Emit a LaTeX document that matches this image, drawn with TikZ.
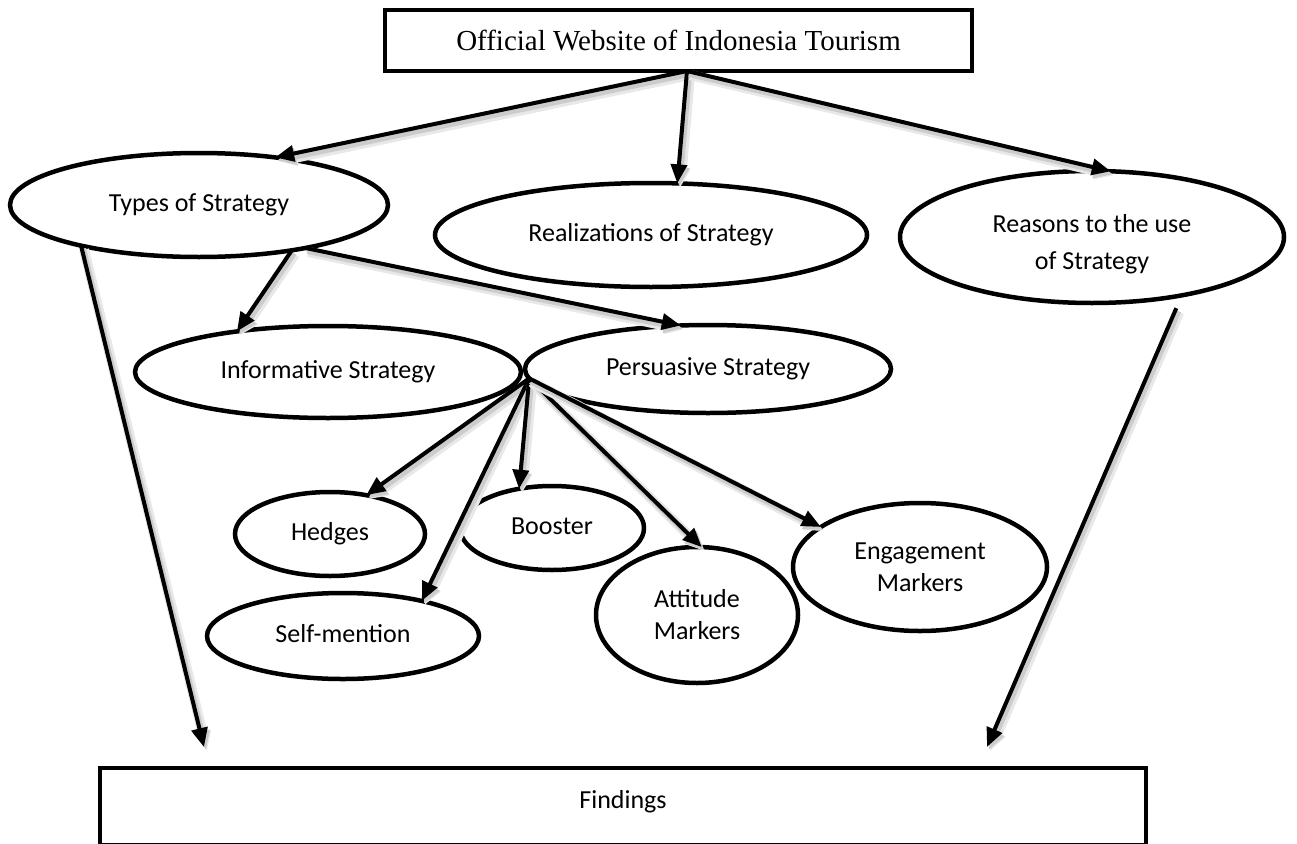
\documentclass[tikz,border=0pt]{standalone}
\usepackage{fontspec}
\setmainfont{Carlito}
\newfontfamily\timesfont{Liberation Serif}
\usetikzlibrary{arrows.meta,shapes.geometric}
\begin{document}
\begin{tikzpicture}[x=1pt,y=-1pt,
  oval/.style={draw, ellipse, line width=4.5pt, inner sep=0pt, outer sep=0pt,
    font=\fontsize{26}{32}\selectfont, align=center},
  oneline/.style={oval, text height=18pt, text depth=6pt},
  boxnode/.style={draw, rectangle, line width=4.5pt, inner sep=0pt, outer sep=0pt},
  conn/.style={line width=4pt, -{Triangle[length=19pt,width=16pt]},
    preaction={draw=black!9, line width=10pt, transform canvas={shift={(3pt,-4pt)}}},
    preaction={draw=black!20, line width=6pt, transform canvas={shift={(2pt,-3pt)}}}},
]
\useasboundingbox (0,0) rectangle (1297,843);
% boxes
\node[boxnode, minimum width=587, minimum height=61,
  font=\timesfont\fontsize{29}{34}\selectfont] (top) at (678.5,40.5)
  {Official Website of Indonesia Tourism};
\node[boxnode, minimum width=1046, minimum height=77, anchor=north west,
  font=\fontsize{26}{32}\selectfont, text height=10pt, text depth=6pt] (find) at (100,768) {Findings};
% ovals
\node[oneline, minimum width=378, minimum height=104] (types) at (199,205) {Types of Strategy};
\node[oneline, minimum width=432, minimum height=104] (real) at (651,235) {Realizations of Strategy};
\node[oval, minimum width=384, minimum height=132, font=\fontsize{26}{37}\selectfont] (reasons) at (1092,237) {\rule{0pt}{32pt}Reasons to the use\\of Strategy};
\node[oneline, minimum width=386, minimum height=92] (info) at (328,372) {Informative Strategy};
\node[oneline, minimum width=366, minimum height=88] (pers) at (708,369) {Persuasive Strategy};
\node[oneline, minimum width=190, minimum height=84] (hedges) at (330,534) {Hedges};
\node[oneline, minimum width=184, minimum height=84] (booster) at (552,528) {Booster};
\node[oneline, minimum width=272, minimum height=86] (self) at (343,636) {Self-mention};
\node[oval, minimum width=202, minimum height=136] (att) at (697,615) {Attitude\\Markers};
\node[oval, minimum width=254, minimum height=128] (eng) at (920,567) {Engagement\\Markers};
% connector end points
\coordinate (topout) at (687,71);
\coordinate (po) at (pers.183);
\coordinate (f1) at (204,747);
\coordinate (f2) at (987,747);
% connectors
\draw[conn] (topout) -- (types.32);
\draw[conn] (topout) -- (real.63);
\draw[conn] (topout) -- (reasons.74);
\draw[conn] (types.-26) -- (info.156);
\draw[conn] (types.-22) -- (pers.122);
\draw[conn] (types.-161) -- (f1);
\draw[conn, shorten <=14pt] (reasons.-33) -- (f2);
\draw[conn] (po) -- (hedges.47);
\draw[conn] (po) -- (self.24);
\draw[conn] (po) -- (booster.130);
\draw[conn] (po) -- (att.86);
\draw[conn] (po) -- (eng.158);
\end{tikzpicture}
\end{document}
